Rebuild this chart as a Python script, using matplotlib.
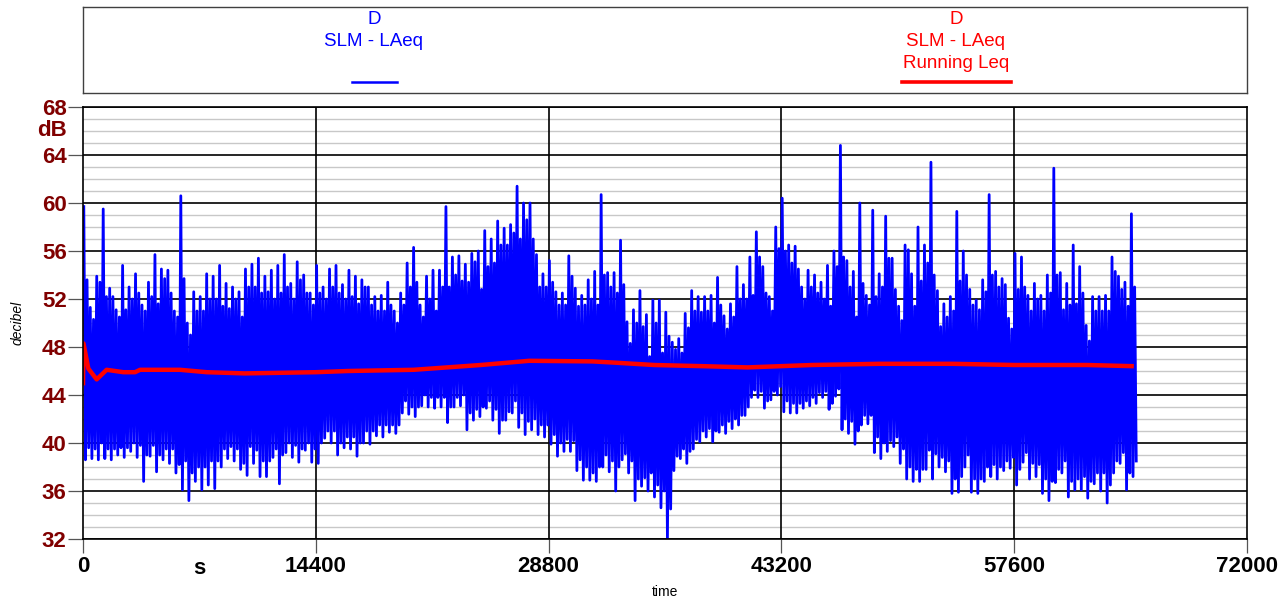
import matplotlib

matplotlib.use("Agg")
import matplotlib.pyplot as plt  # noqa: E402
import matplotlib.transforms as mtransforms  # noqa: E402
import numpy as np  # noqa: E402

plt.rcParams["font.family"] = ["Liberation Sans", "DejaVu Sans"]

# 1 s LAeq trace, read off per 400 s bin: highest / lowest excursion and a
# second (lesser) peak / dip in the same bin (dB)
BIN_S = 400
laeq_max = [
    59.7, 51.3, 53.9, 59.5, 52.9, 51.1, 54.8, 53.0, 54.1, 51.5,
    53.4, 55.7, 54.5, 54.4, 51.0, 60.6, 50.0, 52.6, 52.2, 54.1,
    53.9, 54.8, 53.3, 53.0, 52.6, 54.5, 54.9, 55.4, 53.9, 54.4,
    54.8, 55.7, 53.3, 55.1, 54.0, 52.5, 54.8, 53.0, 54.5, 54.8,
    53.2, 54.4, 53.9, 53.6, 53.0, 52.2, 52.3, 53.4, 51.0, 52.5,
    55.0, 56.3, 51.5, 53.9, 54.4, 54.4, 59.7, 55.5, 55.6, 54.9,
    55.8, 56.0, 57.7, 57.0, 58.5, 57.9, 58.2, 61.4, 60.0, 60.0,
    55.7, 54.1, 55.2, 52.6, 52.5, 55.6, 52.9, 52.3, 53.6, 54.3,
    60.7, 54.2, 54.2, 56.9, 50.1, 51.1, 52.7, 50.7, 51.9, 51.9,
    50.9, 48.4, 48.7, 50.8, 52.7, 52.2, 52.2, 52.3, 53.8, 50.6,
    51.6, 54.7, 53.2, 55.5, 57.6, 54.7, 52.2, 58.0, 60.4, 56.5,
    56.4, 53.0, 54.4, 54.0, 53.4, 54.8, 56.0, 64.8, 55.2, 54.3,
    60.0, 52.3, 59.4, 54.1, 58.9, 55.4, 51.4, 56.5, 54.1, 58.0,
    56.5, 63.4, 52.7, 51.6, 52.2, 59.3, 56.0, 52.8, 51.9, 53.6,
    60.7, 54.3, 53.7, 50.4, 55.8, 55.5, 52.3, 53.3, 52.3, 54.0,
    62.9, 54.2, 53.3, 56.5, 54.7, 49.8, 52.2, 52.2, 52.3, 55.5,
    53.9, 53.4, 59.1,
]
laeq_min = [
    38.6, 38.7, 38.6, 38.7, 38.6, 39.0, 38.8, 39.3, 38.8, 36.8,
    38.9, 37.6, 38.6, 38.3, 37.5, 36.1, 35.2, 36.8, 36.1, 36.5,
    36.2, 38.0, 38.7, 38.5, 37.8, 37.3, 38.3, 37.2, 37.2, 38.8,
    36.6, 39.2, 38.8, 38.4, 39.4, 38.4, 38.3, 40.4, 40.0, 39.0,
    39.6, 39.5, 38.9, 40.0, 39.9, 40.6, 40.5, 40.9, 40.8, 42.5,
    42.4, 42.2, 43.1, 43.0, 42.9, 43.0, 41.7, 43.0, 43.1, 41.1,
    41.9, 42.2, 42.9, 41.9, 40.8, 41.9, 42.5, 41.3, 40.7, 41.1,
    40.7, 40.5, 39.9, 38.9, 39.3, 39.3, 37.7, 36.9, 36.9, 36.8,
    38.0, 37.6, 36.0, 38.6, 37.5, 35.2, 36.4, 36.0, 35.5, 34.6,
    32.0, 37.7, 38.7, 38.3, 39.5, 40.1, 40.5, 40.1, 40.9, 40.8,
    41.2, 41.5, 42.3, 43.8, 43.8, 42.9, 43.6, 44.0, 42.6, 42.5,
    42.5, 42.9, 43.1, 43.3, 43.8, 42.8, 43.9, 41.1, 40.8, 39.9,
    41.5, 41.6, 39.2, 38.7, 39.3, 39.7, 38.3, 37.0, 36.8, 36.8,
    37.8, 37.0, 38.0, 37.6, 35.8, 35.9, 38.0, 35.9, 35.8, 36.8,
    37.2, 37.0, 37.7, 37.9, 36.5, 38.4, 37.0, 37.2, 35.8, 35.2,
    36.7, 37.5, 35.5, 36.1, 36.1, 35.4, 36.6, 36.0, 35.0, 37.5,
    38.3, 36.1, 37.2,
]
laeq_peak2 = [
    53.6, 50.3, 53.4, 52.2, 52.2, 50.5, 51.1, 52.0, 52.5, 51.0,
    52.2, 51.6, 53.7, 52.5, 50.5, 53.7, 49.0, 51.0, 51.0, 52.0,
    52.0, 51.4, 51.2, 52.0, 50.5, 53.0, 53.0, 52.5, 52.6, 52.0,
    52.5, 53.0, 52.0, 53.6, 52.5, 51.5, 52.5, 52.0, 53.0, 52.5,
    52.0, 52.2, 51.6, 53.0, 51.5, 51.0, 51.0, 51.5, 50.0, 51.5,
    53.0, 53.4, 50.5, 52.0, 51.0, 53.0, 53.0, 54.0, 53.5, 53.4,
    55.1, 52.8, 54.7, 55.0, 56.5, 56.5, 57.5, 57.0, 58.6, 57.0,
    53.0, 53.0, 53.4, 51.5, 51.5, 53.9, 51.4, 51.5, 52.0, 51.5,
    54.0, 53.0, 52.5, 53.2, 48.3, 50.0, 49.7, 47.2, 50.0, 47.5,
    48.9, 47.8, 47.5, 49.6, 51.0, 50.9, 51.0, 50.0, 51.5, 49.5,
    50.5, 52.0, 52.0, 52.3, 55.5, 52.5, 51.0, 56.2, 56.0, 55.0,
    54.5, 52.0, 53.0, 52.5, 52.0, 51.4, 54.7, 55.5, 53.0, 50.5,
    53.3, 51.5, 52.2, 53.0, 55.4, 52.8, 50.2, 56.1, 51.4, 53.5,
    55.0, 54.0, 49.7, 50.5, 51.0, 53.5, 54.0, 51.5, 51.1, 52.6,
    54.0, 53.0, 53.2, 49.5, 52.8, 53.0, 51.0, 52.0, 51.0, 52.5,
    54.0, 51.1, 51.5, 51.6, 52.5, 48.5, 51.0, 51.0, 51.0, 54.3,
    52.8, 51.4, 53.0,
]
laeq_dip2 = [
    39.6, 39.5, 40.0, 39.5, 39.5, 39.6, 39.6, 40.0, 39.8, 39.0,
    39.8, 39.0, 39.5, 39.5, 38.2, 38.5, 37.5, 38.0, 38.0, 38.5,
    38.5, 39.5, 39.7, 39.5, 38.3, 39.7, 39.4, 38.5, 38.5, 39.5,
    39.0, 40.0, 39.8, 39.5, 40.0, 39.5, 40.0, 41.0, 41.0, 40.0,
    40.5, 40.5, 40.0, 41.0, 41.0, 41.5, 41.5, 41.5, 41.5, 43.5,
    43.0, 43.0, 44.0, 43.8, 43.8, 43.8, 43.0, 43.8, 44.0, 42.5,
    42.8, 43.0, 43.5, 42.8, 41.9, 42.6, 43.5, 42.5, 41.8, 42.0,
    41.5, 41.5, 40.7, 40.0, 40.3, 40.2, 38.6, 38.0, 37.5, 38.0,
    39.0, 38.5, 38.0, 39.1, 38.5, 37.0, 37.1, 37.5, 36.5, 36.0,
    34.5, 38.9, 39.5, 39.3, 40.3, 41.0, 41.2, 41.0, 41.5, 41.8,
    42.0, 42.3, 43.0, 44.4, 44.3, 43.5, 44.3, 44.7, 43.5, 43.3,
    43.3, 43.5, 43.8, 44.2, 44.3, 43.3, 44.5, 42.0, 41.8, 41.0,
    42.3, 42.3, 40.5, 40.0, 40.2, 40.5, 39.5, 38.0, 37.8, 37.8,
    39.4, 39.1, 38.8, 38.5, 37.0, 37.2, 39.0, 37.0, 37.0, 38.0,
    38.2, 38.0, 38.5, 38.8, 37.8, 39.2, 38.3, 38.2, 37.0, 36.8,
    37.8, 38.5, 36.8, 37.0, 37.2, 36.8, 37.5, 37.5, 36.5, 38.5,
    39.2, 37.5, 38.5,
]

# running Leq
leq_t = [0, 30, 330, 845, 1460, 2500, 3220, 3530, 6000, 7650, 10000,
         14400, 16400, 20450, 24600, 27600, 31500, 32850, 35330, 38420,
         41100, 45100, 49250, 53800, 57600, 62100, 65000]
leq_db = [44.8, 48.3, 46.2, 45.3, 46.1, 45.9, 45.9, 46.1, 46.1, 45.9, 45.8,
          45.9, 46.0, 46.1, 46.5, 46.85, 46.8, 46.7, 46.5, 46.4,
          46.3, 46.5, 46.6, 46.6, 46.5, 46.5, 46.4]

x_ticks = [0, 14400, 28800, 43200, 57600, 72000]
y_ticks = [32, 36, 40, 44, 48, 52, 56, 60, 64, 68]

DARK_RED = "#800000"
W, H = 1287, 601
fig = plt.figure(figsize=(W / 100, H / 100), dpi=100)


def _frac(x0, y0, x1, y1):
    return [x0 / W, 1 - y1 / H, (x1 - x0) / W, (y1 - y0) / H]


ax = fig.add_axes(_frac(83, 107, 1247, 539))

# trace: four read values per bin, in time order inside the bin
n = len(laeq_max)
start = np.arange(n) * BIN_S
tz = np.column_stack([start + 50, start + 150, start + 250, start + 350]).ravel()
vz = np.column_stack([laeq_max, laeq_min, laeq_peak2, laeq_dip2]).ravel()
ax.plot(tz, vz, color="#0000ff", lw=2.0, zorder=3)
ax.plot(leq_t, leq_db, color="#ff0000", lw=3.2, zorder=4,
        solid_capstyle="butt")

ax.set_xlim(0, 72000)
ax.set_ylim(32, 68)
ax.set_xticks(x_ticks)
ax.set_xticklabels([str(v) for v in x_ticks])
ax.set_yticks(y_ticks)
ax.set_yticklabels([str(v) for v in y_ticks])

for y in range(32, 69):
    major = y % 4 == 0
    ax.axhline(y, color="black" if major else "#c8c8c8",
               lw=1.2 if major else 1.0, zorder=1 if major else 0.5)
for x in x_ticks[1:-1]:
    ax.axvline(x, color="black", lw=1.2, zorder=1)

ax.tick_params(axis="y", length=10.8, width=0.9, color="#555555", pad=1,
               labelsize=16, labelcolor=DARK_RED)
ax.tick_params(axis="x", length=10, width=0.9, color="#555555", pad=2,
               labelsize=16)
for lab in ax.get_xticklabels() + ax.get_yticklabels():
    lab.set_fontweight("bold")
for sp in ax.spines.values():
    sp.set_color("black")
    sp.set_linewidth(1.2)
    sp.set_zorder(5)

# unit labels standing in the tick label rows
ax.text(-0.014, 66, "dB", transform=mtransforms.blended_transform_factory(
    ax.transAxes, ax.transData), ha="right", va="center", fontsize=16,
    fontweight="bold", color=DARK_RED)
ax.text(7200, -0.043, "s", transform=mtransforms.blended_transform_factory(
    ax.transData, ax.transAxes), ha="center", va="top", fontsize=16,
    fontweight="bold", color="black")

fig.text(18 / W, 1 - 323 / H, "decibel", rotation=90, ha="center",
         va="center", fontsize=10, fontstyle="italic")
fig.text(665 / W, 1 - 592 / H, "time", ha="center", va="center",
         fontsize=10)

# legend box
lg = fig.add_axes(_frac(83, 7, 1247, 93))
lg.set_xlim(0, 1)
lg.set_ylim(0, 1)
lg.set_xticks([])
lg.set_yticks([])
for sp in lg.spines.values():
    sp.set_color("#404040")
    sp.set_linewidth(1.0)
lg.text(0.25, 0.955, "D\nSLM - LAeq", color="#0000ff", ha="center",
        va="top", fontsize=13.5, linespacing=1.4)
lg.plot([0.231, 0.270], [0.128, 0.128], color="#0000ff", lw=1.8)
lg.text(0.75, 0.955, "D\nSLM - LAeq\nRunning Leq", color="#ff0000",
        ha="center", va="top", fontsize=13.5, linespacing=1.4)
lg.plot([0.7036, 0.797], [0.128, 0.128], color="#ff0000", lw=2.6)

fig.savefig("out.png", dpi=100)
